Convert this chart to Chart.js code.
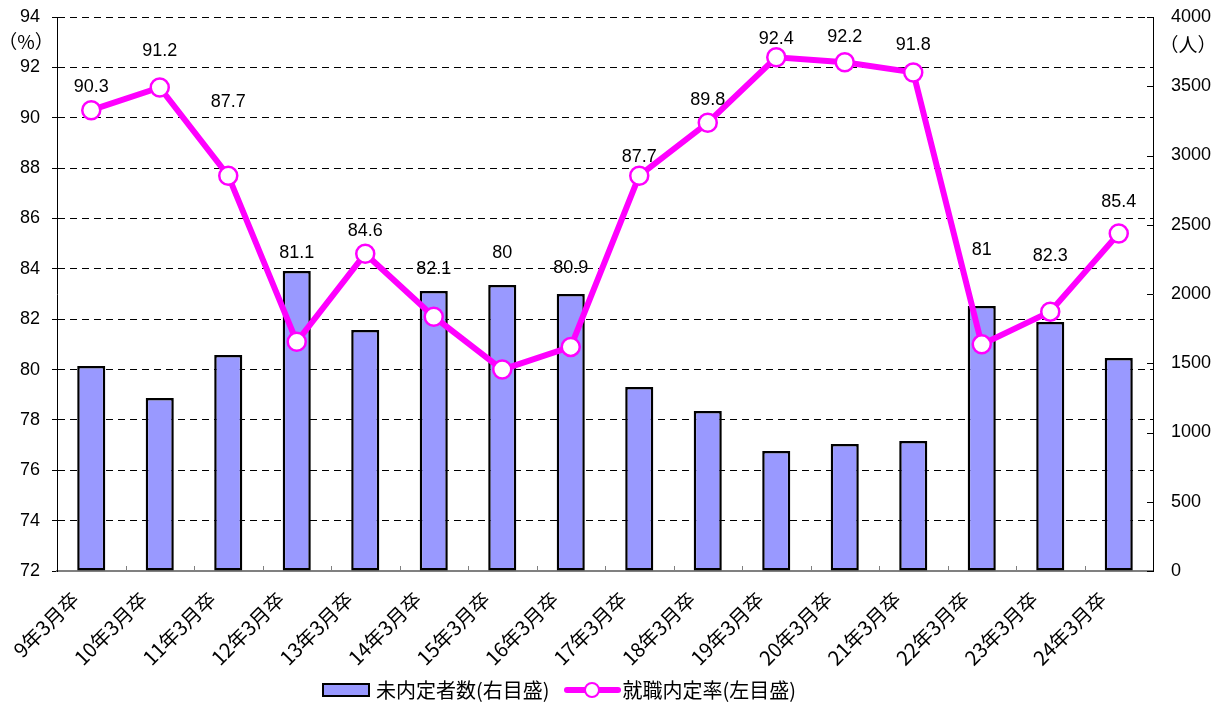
<!DOCTYPE html>
<html lang="ja">
<head>
<meta charset="utf-8">
<script src="https://cdn.jsdelivr.net/npm/chart.js@4.4.1/dist/chart.umd.min.js"></script>
<style>
  body { margin: 0; background: #fff; }
  #wrap { position: relative; width: 1223px; height: 704px; }
  #legend {
    position: absolute; left: 322px; top: 678px;
    display: flex; align-items: center;
    font-family: "Noto Sans CJK JP", sans-serif; font-size: 20px; color: #000;
    line-height: 24px;
  }
  .box { width: 44px; height: 10px; background: #9999ff; border: 2px solid #000; margin-right: 6px; }
  .lineKey { position: relative; width: 57px; height: 20px; margin: 0 2px 0 14px; }
  .lineKey::before { content: ""; position: absolute; left: 0; right: 0; top: 7px; height: 6px; background: #ff00ff; border-radius: 3px; }
  .lineKey::after { content: ""; position: absolute; left: 20px; top: 2px; width: 12px; height: 12px; border: 2.5px solid #ff00ff; background: #fff; border-radius: 50%; }
</style>
</head>
<body>
<div id="wrap">
  <canvas id="grafico" width="1223" height="704"></canvas>
  <div id="legend">
    <span class="box"></span><span>未内定者数(右目盛)</span>
    <span class="lineKey"></span><span>就職内定率(左目盛)</span>
  </div>
</div>
<script>
// データ
const categorias = ["9年3月卒", "10年3月卒", "11年3月卒", "12年3月卒", "13年3月卒", "14年3月卒", "15年3月卒", "16年3月卒",
  "17年3月卒", "18年3月卒", "19年3月卒", "20年3月卒", "21年3月卒", "22年3月卒", "23年3月卒", "24年3月卒"];
const mikentei = [1480, 1249, 1560, 2166, 1740, 2022, 2065, 2000, 1329, 1155, 866, 917, 939, 1913, 1798, 1538];
const naiteiRitsu = [90.3, 91.2, 87.7, 81.1, 84.6, 82.1, 80, 80.9, 87.7, 89.8, 92.4, 92.2, 91.8, 81, 82.3, 85.4];

// ラベルの持ち上げ量(px)
const labelLift = [23, 36, 74, 89, 23, 48, 117, 79, 19, 23, 18, 25, 27, 94, 56, 32];

const NUM_FONT = "'Liberation Sans', Arial, sans-serif";

// 軸の幅を固定し、上下の余白を消す
const fixWidth = w => s => { s.width = w; s.paddingTop = 0; s.paddingBottom = 0; };

const extras = {
  id: "extras",
  afterDatasetsDraw(chart) {
    const ctx = chart.ctx;
    const area = chart.chartArea;
    const x = chart.scales.x;
    const yR = chart.scales.yR;

    ctx.save();
    // x軸の内向き目盛
    ctx.strokeStyle = "#808080";
    ctx.lineWidth = 1;
    for (let i = 1; i < categorias.length; i++) {
      const px = Math.round((x.getPixelForTick(i - 1) + x.getPixelForTick(i)) / 2) + 0.5;
      ctx.beginPath();
      ctx.moveTo(px, area.bottom);
      ctx.lineTo(px, area.bottom - 5);
      ctx.stroke();
    }
    // 右軸の内向き目盛
    ctx.strokeStyle = "#000";
    for (let v = 0; v <= 4000; v += 500) {
      const py = Math.round(yR.getPixelForValue(v)) + 0.5;
      ctx.beginPath();
      ctx.moveTo(area.right, py);
      ctx.lineTo(area.right - 6, py);
      ctx.stroke();
    }

    // データラベル
    const meta = chart.getDatasetMeta(1);
    ctx.fillStyle = "#000";
    ctx.font = "18px " + NUM_FONT;
    ctx.textAlign = "center";
    ctx.textBaseline = "middle";
    meta.data.forEach((pt, i) => {
      ctx.fillText(String(naiteiRitsu[i]), pt.x, pt.y - labelLift[i]);
    });

    // 単位
    ctx.font = "19px 'Noto Sans CJK JP', sans-serif";
    ctx.fillText("（%）", 26, area.top + 25);
    ctx.fillText("（人）", 1188, area.top + 28);
    ctx.restore();
  }
};

new Chart(document.getElementById("grafico"), {
  type: "bar",
  data: {
    labels: categorias,
    datasets: [
      {
        type: "bar",
        label: "未内定者数(右目盛)",
        data: mikentei,
        yAxisID: "yR",
        backgroundColor: "#9999ff",
        borderColor: "#000",
        borderWidth: 2.5,
        borderSkipped: false,
        barPercentage: 0.41,
        categoryPercentage: 1,
        order: 2
      },
      {
        type: "line",
        label: "就職内定率(左目盛)",
        data: naiteiRitsu,
        yAxisID: "yL",
        borderColor: "#ff00ff",
        borderWidth: 6,
        pointRadius: 9,
        pointBorderWidth: 2.5,
        pointBackgroundColor: "#fff",
        pointBorderColor: "#ff00ff",
        tension: 0,
        order: 1
      }
    ]
  },
  options: {
    responsive: false,
    animation: false,
    layout: { padding: { top: 17, left: 0, right: 0, bottom: 0 } },
    plugins: { legend: { display: false }, tooltip: { enabled: false } },
    scales: {
      x: {
        offset: true,
        grid: { display: false },
        border: { color: "#808080", width: 2 },
        ticks: {
          minRotation: 45, maxRotation: 45, padding: 8, labelOffset: -16,
          color: "#000",
          font: { family: "'Noto Sans CJK JP', sans-serif", size: 20 }
        },
        afterFit(s) { s.height = 133; }
      },
      yL: {
        position: "left",
        min: 72, max: 94,
        ticks: { stepSize: 2, color: "#000", padding: 12, font: { family: NUM_FONT, size: 18 } },
        grid: {
          color: c => (c.tick && c.tick.value === 72) ? "rgba(0,0,0,0)" : "#000",
          lineWidth: 1,
          tickLength: 5,
          tickColor: "#000",
          tickBorderDash: []
        },
        border: { color: "#000", width: 1, dash: [7, 5] },
        afterFit: fixWidth(57)
      },
      yR: {
        position: "right",
        min: 0, max: 4000,
        ticks: {
          stepSize: 500, color: "#000", padding: 18, font: { family: NUM_FONT, size: 18 },
          callback: v => String(v)
        },
        grid: { drawOnChartArea: false, drawTicks: false },
        border: { color: "#000", width: 1 },
        afterFit: fixWidth(70)
      }
    }
  },
  plugins: [extras]
});
</script>
</body>
</html>
